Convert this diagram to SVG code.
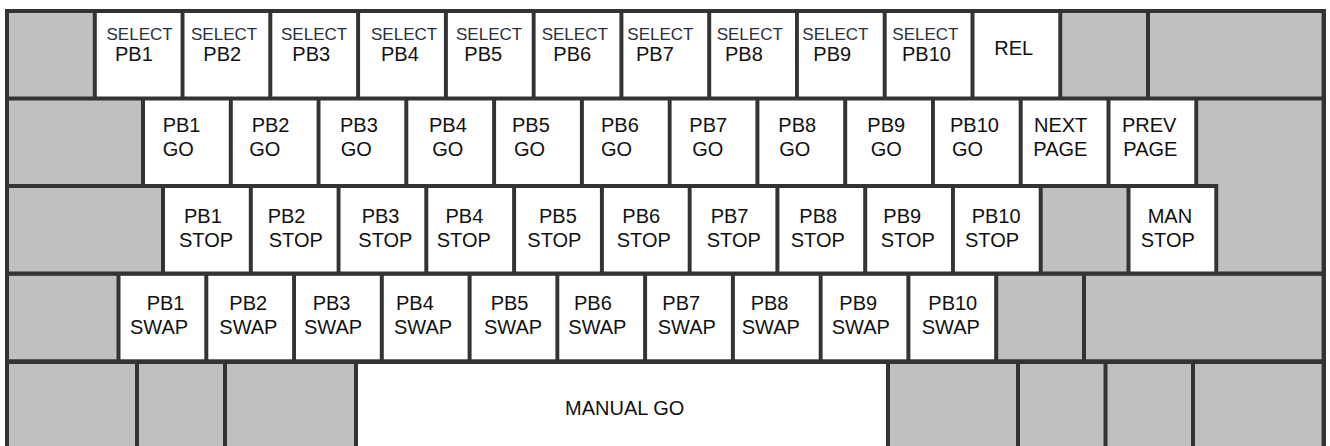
<svg xmlns="http://www.w3.org/2000/svg" width="1330" height="446" viewBox="0 0 1330 446">
<style>
.k{fill:#ffffff}
.g{fill:#c0c0c0}
.t{font-family:"Liberation Sans",Arial,sans-serif;font-size:20px;fill:#111111}
.s{font-size:17px;fill:#2b2f3a}
</style>
<rect x="0" y="0" width="1330" height="446" fill="#ffffff"/>
<rect x="5" y="9" width="1321" height="440" fill="#333333"/>
<!-- Row 1 -->
<g id="r1-blank1"><rect class="g" x="9" y="13" width="83.8" height="83.5"/></g>
<g id="sel-pb1"><rect class="k" x="96.8" y="13" width="83.8" height="83.5"/><text class="t s" x="106.5" y="40">SELECT</text><text class="t" x="115" y="60.5">PB1</text></g>
<g id="sel-pb2"><rect class="k" x="184.5" y="13" width="83.8" height="83.5"/><text class="t s" x="191" y="40">SELECT</text><text class="t" x="203.3" y="60.5">PB2</text></g>
<g id="sel-pb3"><rect class="k" x="272.3" y="13" width="83.8" height="83.5"/><text class="t s" x="281" y="40">SELECT</text><text class="t" x="292.3" y="60.5">PB3</text></g>
<g id="sel-pb4"><rect class="k" x="360.1" y="13" width="83.8" height="83.5"/><text class="t s" x="371" y="40">SELECT</text><text class="t" x="381" y="60.5">PB4</text></g>
<g id="sel-pb5"><rect class="k" x="447.9" y="13" width="83.8" height="83.5"/><text class="t s" x="456" y="40">SELECT</text><text class="t" x="464.3" y="60.5">PB5</text></g>
<g id="sel-pb6"><rect class="k" x="535.6" y="13" width="83.8" height="83.5"/><text class="t s" x="541.7" y="40">SELECT</text><text class="t" x="553.3" y="60.5">PB6</text></g>
<g id="sel-pb7"><rect class="k" x="623.4" y="13" width="83.8" height="83.5"/><text class="t s" x="627.3" y="40">SELECT</text><text class="t" x="636" y="60.5">PB7</text></g>
<g id="sel-pb8"><rect class="k" x="711.2" y="13" width="83.8" height="83.5"/><text class="t s" x="716.7" y="40">SELECT</text><text class="t" x="725" y="60.5">PB8</text></g>
<g id="sel-pb9"><rect class="k" x="798.9" y="13" width="83.8" height="83.5"/><text class="t s" x="802.3" y="40">SELECT</text><text class="t" x="813.3" y="60.5">PB9</text></g>
<g id="sel-pb10"><rect class="k" x="886.7" y="13" width="83.8" height="83.5"/><text class="t s" x="892.3" y="40">SELECT</text><text class="t" x="902" y="60.5">PB10</text></g>
<g id="rel"><rect class="k" x="974.5" y="13" width="83.8" height="83.5"/><text class="t" x="994.3" y="55">REL</text></g>
<g id="r1-blank2"><rect class="g" x="1062.2" y="13" width="83.8" height="83.5"/></g>
<g id="r1-blank3"><rect class="g" x="1150" y="13" width="171.6" height="83.5"/></g>
<!-- Row 2 -->
<g id="r2-blank1"><rect class="g" x="9" y="100.5" width="132" height="83.5"/></g>
<g id="pb1-go"><rect class="k" x="145" y="100.5" width="83.8" height="83.5"/><text class="t" x="162.7" y="132">PB1</text><text class="t" x="162.7" y="155.5">GO</text></g>
<g id="pb2-go"><rect class="k" x="232.8" y="100.5" width="83.8" height="83.5"/><text class="t" x="251.7" y="132">PB2</text><text class="t" x="249.3" y="155.5">GO</text></g>
<g id="pb3-go"><rect class="k" x="320.5" y="100.5" width="83.8" height="83.5"/><text class="t" x="340" y="132">PB3</text><text class="t" x="340.7" y="155.5">GO</text></g>
<g id="pb4-go"><rect class="k" x="408.3" y="100.5" width="83.8" height="83.5"/><text class="t" x="429" y="132">PB4</text><text class="t" x="432.3" y="155.5">GO</text></g>
<g id="pb5-go"><rect class="k" x="496.1" y="100.5" width="83.8" height="83.5"/><text class="t" x="512" y="132">PB5</text><text class="t" x="514" y="155.5">GO</text></g>
<g id="pb6-go"><rect class="k" x="583.9" y="100.5" width="83.8" height="83.5"/><text class="t" x="601" y="132">PB6</text><text class="t" x="601" y="155.5">GO</text></g>
<g id="pb7-go"><rect class="k" x="671.6" y="100.5" width="83.8" height="83.5"/><text class="t" x="689.3" y="132">PB7</text><text class="t" x="692.3" y="155.5">GO</text></g>
<g id="pb8-go"><rect class="k" x="759.4" y="100.5" width="83.8" height="83.5"/><text class="t" x="778.3" y="132">PB8</text><text class="t" x="779.3" y="155.5">GO</text></g>
<g id="pb9-go"><rect class="k" x="847.2" y="100.5" width="83.8" height="83.5"/><text class="t" x="867.3" y="132">PB9</text><text class="t" x="870.7" y="155.5">GO</text></g>
<g id="pb10-go"><rect class="k" x="934.9" y="100.5" width="83.8" height="83.5"/><text class="t" x="950" y="132">PB10</text><text class="t" x="952" y="155.5">GO</text></g>
<g id="next-page"><rect class="k" x="1022.7" y="100.5" width="83.8" height="83.5"/><text class="t" x="1034" y="132">NEXT</text><text class="t" x="1033.3" y="155.5">PAGE</text></g>
<g id="prev-page"><rect class="k" x="1110.5" y="100.5" width="83.8" height="83.5"/><text class="t" x="1122" y="132">PREV</text><text class="t" x="1123.3" y="155.5">PAGE</text></g>
<g id="enter"><path class="g" d="M1198.2 100.5 H1321.6 V271.5 H1218.2 V184 H1198.2 Z"/></g>
<!-- Row 3 -->
<g id="r3-blank1"><rect class="g" x="9" y="188" width="152" height="83.5"/></g>
<g id="pb1-stop"><rect class="k" x="165" y="188" width="83.8" height="83.5"/><text class="t" x="184" y="223.3">PB1</text><text class="t" x="179" y="246.7">STOP</text></g>
<g id="pb2-stop"><rect class="k" x="252.8" y="188" width="83.8" height="83.5"/><text class="t" x="267.7" y="223.3">PB2</text><text class="t" x="268.7" y="246.7">STOP</text></g>
<g id="pb3-stop"><rect class="k" x="340.5" y="188" width="83.8" height="83.5"/><text class="t" x="361.7" y="223.3">PB3</text><text class="t" x="358.3" y="246.7">STOP</text></g>
<g id="pb4-stop"><rect class="k" x="428.3" y="188" width="83.8" height="83.5"/><text class="t" x="445.5" y="223.3">PB4</text><text class="t" x="436.7" y="246.7">STOP</text></g>
<g id="pb5-stop"><rect class="k" x="516.1" y="188" width="83.8" height="83.5"/><text class="t" x="539" y="223.3">PB5</text><text class="t" x="527.3" y="246.7">STOP</text></g>
<g id="pb6-stop"><rect class="k" x="603.9" y="188" width="83.8" height="83.5"/><text class="t" x="622.3" y="223.3">PB6</text><text class="t" x="616.7" y="246.7">STOP</text></g>
<g id="pb7-stop"><rect class="k" x="691.6" y="188" width="83.8" height="83.5"/><text class="t" x="710.7" y="223.3">PB7</text><text class="t" x="706.7" y="246.7">STOP</text></g>
<g id="pb8-stop"><rect class="k" x="779.4" y="188" width="83.8" height="83.5"/><text class="t" x="799.3" y="223.3">PB8</text><text class="t" x="790.7" y="246.7">STOP</text></g>
<g id="pb9-stop"><rect class="k" x="867.2" y="188" width="83.8" height="83.5"/><text class="t" x="883.3" y="223.3">PB9</text><text class="t" x="880.7" y="246.7">STOP</text></g>
<g id="pb10-stop"><rect class="k" x="954.9" y="188" width="83.8" height="83.5"/><text class="t" x="971.7" y="223.3">PB10</text><text class="t" x="965" y="246.7">STOP</text></g>
<g id="r3-blank2"><rect class="g" x="1042.7" y="188" width="83.8" height="83.5"/></g>
<g id="man-stop"><rect class="k" x="1130.5" y="188" width="83.8" height="83.5"/><text class="t" x="1147.7" y="223.3">MAN</text><text class="t" x="1140.7" y="246.7">STOP</text></g>
<!-- Row 4 -->
<g id="r4-blank1"><rect class="g" x="9" y="275.8" width="107.5" height="83.5"/></g>
<g id="pb1-swap"><rect class="k" x="120.5" y="275.8" width="83.8" height="83.5"/><text class="t" x="146.7" y="310">PB1</text><text class="t" x="130" y="334.3">SWAP</text></g>
<g id="pb2-swap"><rect class="k" x="208.3" y="275.8" width="83.8" height="83.5"/><text class="t" x="229.3" y="310">PB2</text><text class="t" x="219.3" y="334.3">SWAP</text></g>
<g id="pb3-swap"><rect class="k" x="296" y="275.8" width="83.8" height="83.5"/><text class="t" x="312.7" y="310">PB3</text><text class="t" x="304" y="334.3">SWAP</text></g>
<g id="pb4-swap"><rect class="k" x="383.8" y="275.8" width="83.8" height="83.5"/><text class="t" x="396" y="310">PB4</text><text class="t" x="394" y="334.3">SWAP</text></g>
<g id="pb5-swap"><rect class="k" x="471.6" y="275.8" width="83.8" height="83.5"/><text class="t" x="490.7" y="310">PB5</text><text class="t" x="484" y="334.3">SWAP</text></g>
<g id="pb6-swap"><rect class="k" x="559.3" y="275.8" width="83.8" height="83.5"/><text class="t" x="574" y="310">PB6</text><text class="t" x="568.3" y="334.3">SWAP</text></g>
<g id="pb7-swap"><rect class="k" x="647.1" y="275.8" width="83.8" height="83.5"/><text class="t" x="662.3" y="310">PB7</text><text class="t" x="657.7" y="334.3">SWAP</text></g>
<g id="pb8-swap"><rect class="k" x="734.9" y="275.8" width="83.8" height="83.5"/><text class="t" x="750.7" y="310">PB8</text><text class="t" x="741.7" y="334.3">SWAP</text></g>
<g id="pb9-swap"><rect class="k" x="822.6" y="275.8" width="83.8" height="83.5"/><text class="t" x="839.3" y="310">PB9</text><text class="t" x="831.7" y="334.3">SWAP</text></g>
<g id="pb10-swap"><rect class="k" x="910.4" y="275.8" width="83.8" height="83.5"/><text class="t" x="928.3" y="310">PB10</text><text class="t" x="921.7" y="334.3">SWAP</text></g>
<g id="r4-blank2"><rect class="g" x="998.2" y="275.8" width="83.8" height="83.5"/></g>
<g id="r4-blank3"><rect class="g" x="1086" y="275.8" width="235.6" height="83.5"/></g>
<!-- Row 5 -->
<g id="r5-blank1"><rect class="g" x="9" y="364" width="126" height="90"/></g>
<g id="r5-blank2"><rect class="g" x="139" y="364" width="84" height="90"/></g>
<g id="r5-blank3"><rect class="g" x="227" y="364" width="127" height="90"/></g>
<g id="manual-go"><rect class="k" x="358" y="364" width="528" height="90"/><text class="t" x="565" y="415">MANUAL GO</text></g>
<g id="r5-blank4"><rect class="g" x="890" y="364" width="126" height="90"/></g>
<g id="r5-blank5"><rect class="g" x="1020" y="364" width="83.5" height="90"/></g>
<g id="r5-blank6"><rect class="g" x="1107.5" y="364" width="83.5" height="90"/></g>
<g id="r5-blank7"><rect class="g" x="1195" y="364" width="126.6" height="90"/></g>
</svg>
